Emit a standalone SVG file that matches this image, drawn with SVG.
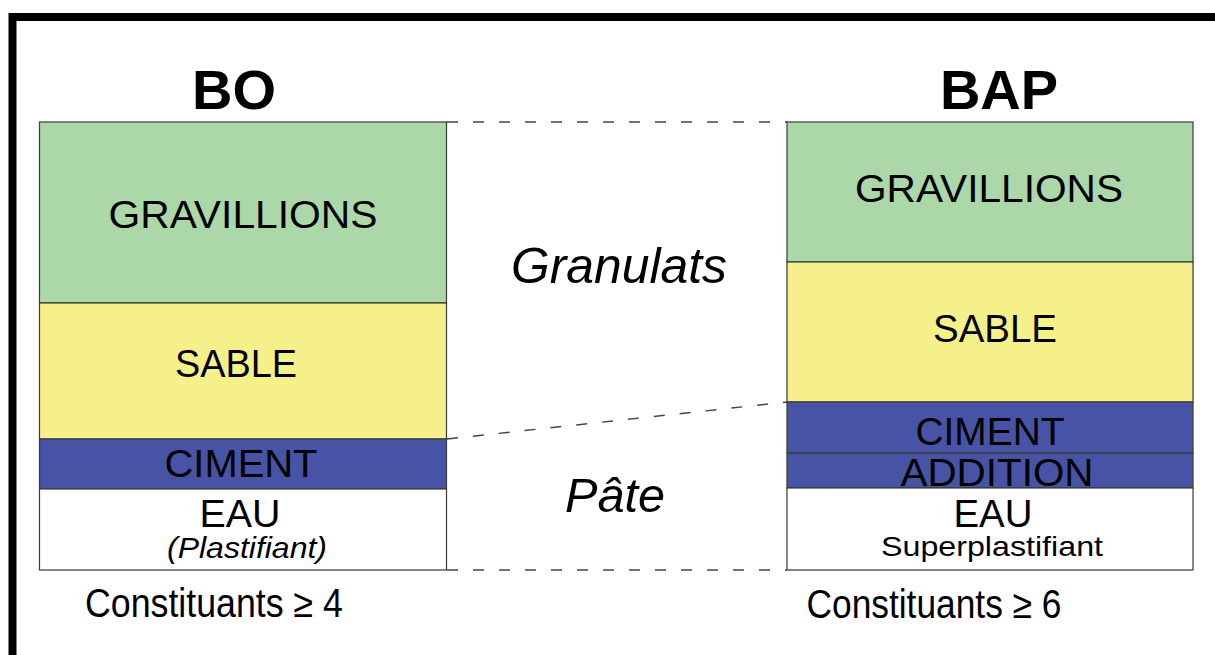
<svg xmlns="http://www.w3.org/2000/svg" width="1215" height="655" viewBox="0 0 1215 655">
<style>
text{font-family:"Liberation Sans",Arial,sans-serif;fill:#000;text-anchor:middle}
.layer{stroke:#3a3a3a;stroke-width:1.2}
.g{fill:#acd8a9}
.y{fill:#f6f08b}
.b{fill:#4753a5}
.w{fill:#fff}
.title{font-weight:bold;font-size:56px}
.lbl{font-size:38px}
.it{font-style:italic}
.dash{stroke:#444;stroke-width:1.4;stroke-dasharray:11 15;fill:none}
</style>
<rect x="0" y="0" width="1215" height="655" fill="#fff"/>
<rect id="frame" x="12.5" y="17" width="1230" height="660" fill="none" stroke="#000" stroke-width="8"/>

<g id="connectors">
<line class="dash" x1="447" y1="122" x2="787" y2="122"/>
<line class="dash" x1="447" y1="570" x2="787" y2="570"/>
<line class="dash" x1="447" y1="439" x2="787" y2="402"/>
</g>

<g id="bo">
<text class="title" x="234" y="109">BO</text>
<g id="bo-gravillions"><rect class="layer g" x="39.5" y="122" width="407" height="181"/>
<text class="lbl" x="243" y="228" textLength="269" lengthAdjust="spacingAndGlyphs">GRAVILLIONS</text></g>
<g id="bo-sable"><rect class="layer y" x="39.5" y="303" width="407" height="136"/>
<text class="lbl" x="236" y="377" textLength="122" lengthAdjust="spacingAndGlyphs">SABLE</text></g>
<g id="bo-ciment"><rect class="layer b" x="39.5" y="439" width="407" height="50"/>
<text class="lbl" x="241" y="477" textLength="153" lengthAdjust="spacingAndGlyphs">CIMENT</text></g>
<g id="bo-eau"><rect class="layer w" x="39.5" y="489" width="407" height="81"/>
<text class="lbl" x="240" y="527" textLength="81" lengthAdjust="spacingAndGlyphs">EAU</text>
<text class="it" x="247" y="558" font-size="29" textLength="160" lengthAdjust="spacingAndGlyphs">(Plastifiant)</text></g>
<text id="bo-const" x="214" y="617" font-size="40" textLength="258" lengthAdjust="spacingAndGlyphs">Constituants ≥ 4</text>
</g>

<g id="middle">
<text class="it" x="619" y="283" font-size="50" textLength="216" lengthAdjust="spacingAndGlyphs">Granulats</text>
<text class="it" x="615" y="512" font-size="49" textLength="100" lengthAdjust="spacingAndGlyphs">Pâte</text>
</g>

<g id="bap">
<text class="title" x="999" y="109">BAP</text>
<g id="bap-gravillions"><rect class="layer g" x="787" y="122" width="406" height="140"/>
<text class="lbl" x="989" y="202" textLength="268" lengthAdjust="spacingAndGlyphs">GRAVILLIONS</text></g>
<g id="bap-sable"><rect class="layer y" x="787" y="262" width="406" height="140"/>
<text class="lbl" x="995" y="342" textLength="124" lengthAdjust="spacingAndGlyphs">SABLE</text></g>
<g id="bap-ciment"><rect class="layer b" x="787" y="402" width="406" height="51"/>
<text class="lbl" x="990" y="445" textLength="149" lengthAdjust="spacingAndGlyphs">CIMENT</text></g>
<g id="bap-addition"><rect class="layer b" x="787" y="453" width="406" height="35"/>
<text class="lbl" x="997" y="486" textLength="193" lengthAdjust="spacingAndGlyphs">ADDITION</text></g>
<g id="bap-eau"><rect class="layer w" x="787" y="488" width="406" height="82"/>
<text class="lbl" x="993" y="527" textLength="79" lengthAdjust="spacingAndGlyphs">EAU</text>
<text x="992" y="556" font-size="28" textLength="222" lengthAdjust="spacingAndGlyphs">Superplastifiant</text></g>
<text id="bap-const" x="934" y="618" font-size="40" textLength="255" lengthAdjust="spacingAndGlyphs">Constituants ≥ 6</text>
</g>
</svg>
